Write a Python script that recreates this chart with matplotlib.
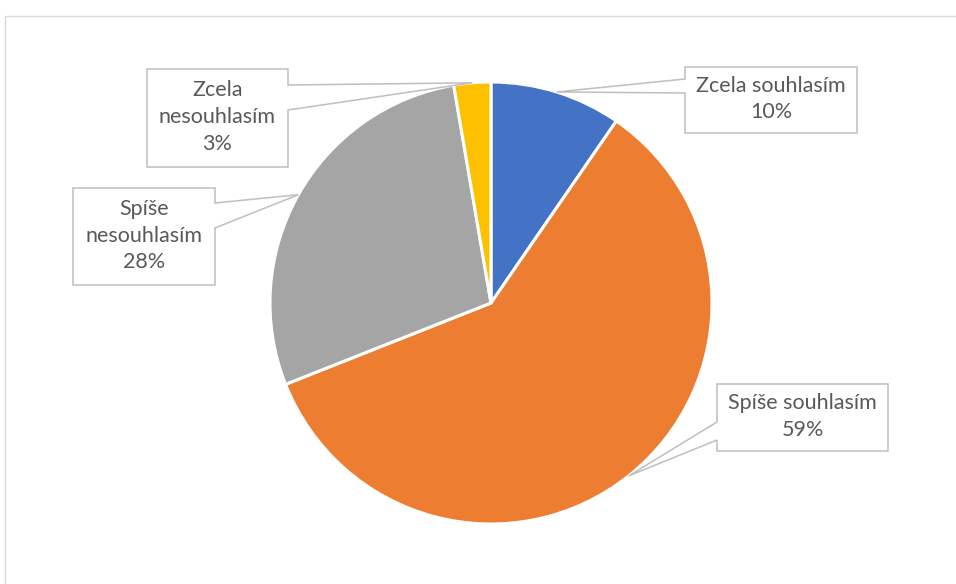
import numpy as np
import matplotlib.pyplot as plt
from matplotlib.patches import Polygon, Rectangle

# data
categories = ['Zcela souhlasím', 'Spíše souhlasím', 'Spíše nesouhlasím', 'Zcela nesouhlasím']
values = [9.6, 59.4, 28.3, 2.7]
label_names = ['Zcela souhlasím', 'Spíše souhlasím', 'Spíše\nnesouhlasím', 'Zcela\nnesouhlasím']
colors = ['#4472C4', '#ED7D31', '#A5A5A5', '#FFC000']

W, H = 956, 584

# callout boxes in pixel coords: (x0, y0_top, x1, y1_bottom), pointer side, pointer base (top, bottom)
boxes = [(685, 67, 857, 133), (717, 384, 888, 451), (73, 188, 215, 285), (147, 69, 288, 167)]
sides = ['left', 'left', 'right', 'right']
bases = [(79, 93), (422, 440), (203, 228), (85, 110)]

fig = plt.figure(figsize=(W / 100, H / 100), dpi=100)
ax = fig.add_axes([0, 0, 1, 1])
ax.set_aspect('equal')

# outer chart border (cut at right and bottom)
ax.add_patch(Rectangle((5, -10), W + 20, H - 16 + 10, fill=False, edgecolor='#D9D9D9', linewidth=1))

cx, cy, r = 491, H - 303, 221
wedges, _ = ax.pie(values, colors=colors, startangle=90, counterclock=False,
                   center=(cx, cy), radius=r, frame=True,
                   wedgeprops=dict(edgecolor='white', linewidth=2.2))
ax.set_xlim(0, W)
ax.set_ylim(0, H)
ax.axis('off')

total = sum(values)
for w, name, val, box, side, base in zip(wedges, label_names, values, boxes, sides, bases):
    mid = np.deg2rad((w.theta1 + w.theta2) / 2)
    tip = (cx + r * np.cos(mid), cy + r * np.sin(mid))
    x0, y1, x1, y0 = box[0], H - box[1], box[2], H - box[3]
    b_hi, b_lo = H - base[0], H - base[1]
    if side == 'left':
        verts = [(x0, y1), (x1, y1), (x1, y0), (x0, y0), (x0, b_lo), tip, (x0, b_hi)]
    else:
        verts = [(x0, y1), (x1, y1), (x1, b_hi), tip, (x1, b_lo), (x1, y0), (x0, y0)]
    ax.add_patch(Polygon(verts, closed=True, facecolor='white', edgecolor='#BFBFBF',
                         linewidth=1.1, zorder=3))
    pct = round(val / total * 100)
    ax.text((x0 + x1) / 2, (y0 + y1) / 2 + 1, f'{name}\n{pct}%', ha='center', va='center',
            fontsize=15.5, family='Lato', color='#595959', linespacing=1.42, zorder=4)

plt.savefig('out.png', dpi=100)
